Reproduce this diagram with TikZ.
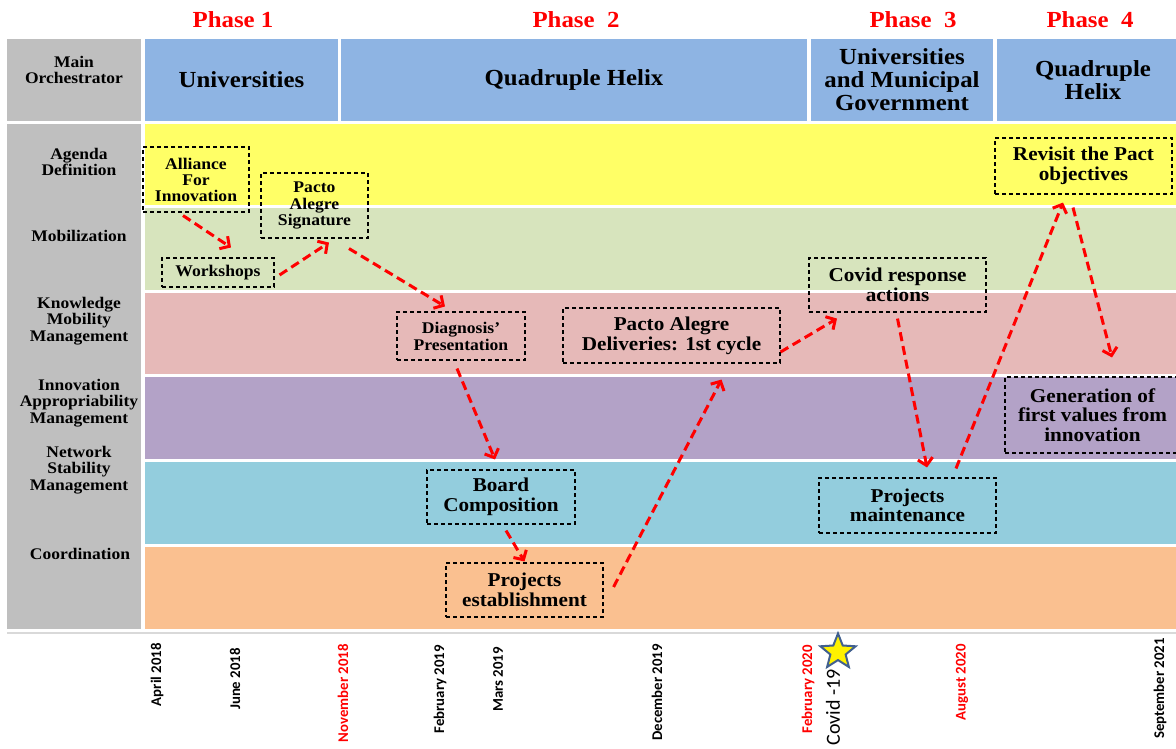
\documentclass[tikz,border=0pt]{standalone}
\usepackage{fontspec}
\setmainfont{Liberation Serif}[FakeStretch=1.08]
\newfontfamily\datefont{Carlito}
\usetikzlibrary{arrows.meta,shapes.geometric}

\definecolor{headblue}{HTML}{8EB4E3}
\definecolor{sidegray}{HTML}{BFBFBF}
\definecolor{agendayellow}{HTML}{FFFF66}
\definecolor{mobgreen}{HTML}{D7E4BD}
\definecolor{kmpink}{HTML}{E6B9B8}
\definecolor{iapurple}{HTML}{B3A2C7}
\definecolor{nsblue}{HTML}{93CDDD}
\definecolor{coordorange}{HTML}{FAC090}
\definecolor{starblue}{HTML}{41608F}

\tikzset{
  phase/.style={text=red,font=\bfseries\fontsize{23}{23}\selectfont},
  headcell/.style={fill=headblue,minimum height=82pt,inner sep=0pt,align=center,font=\bfseries\fontsize{23}{23}\selectfont},
  rowlabel/.style={align=center,font=\bfseries\fontsize{16.2}{16.5}\selectfont},
  stepbox/.style={draw=black,line width=1.1pt,dash pattern=on 4pt off 3pt,inner sep=0pt,align=center,font=\bfseries\fontsize{19.6}{19.5}\selectfont},
  smallbox/.style={stepbox,font=\bfseries\fontsize{16.3}{16.5}\selectfont},
  flow/.style={red,line width=3pt,dash pattern=on 9pt off 5pt,-{Straight Barb[length=7pt,width=15pt]}},
  datelabel/.style={rotate=90,anchor=east,inner sep=0pt,font=\datefont\bfseries\fontsize{14.8}{15}\selectfont},
}

\begin{document}
\begin{tikzpicture}[x=1pt,y=-1pt]
  \useasboundingbox (0,0) rectangle (1176,748);
  \node[phase] (ph1) at (233,20) {Phase 1};
  \node[phase] (ph2) at (576,20) {Phase~~2};
  \node[phase] (ph3) at (913,20) {Phase~~3};
  \node[phase] (ph4) at (1090,20) {Phase~~4};

  \fill[sidegray] (7,39) rectangle (141,121);
  \node[rowlabel] (orch) at (74,70) {Main\\Orchestrator};
  \node[headcell,minimum width=193pt] (hd1) at (241.5,80) {Universities};
  \node[headcell,minimum width=466pt] (hd2) at (574,80) {Quadruple Helix};
  \node[headcell,minimum width=182pt] (hd3) at (902,80) {Universities\\and Municipal\\Government};
  \node[headcell,minimum width=192pt] (hd4) at (1093,80) {Quadruple\\Helix};

  \fill[sidegray] (7,124) rectangle (141,629);
  \foreach \c/\t/\b in {agendayellow/124/205,mobgreen/208/290,kmpink/293/374,iapurple/377/459,nsblue/462/544,coordorange/547/629}
    \fill[\c] (145,\t) rectangle (1176,\b);
  \draw[gray!30,line width=2pt] (7,632.5) -- (1176,632.5);

  \node[rowlabel] (agenda) at (79,162) {Agenda\\Definition};
  \node[rowlabel] (mobil) at (79,236) {Mobilization};
  \node[rowlabel] (knowl) at (79,321) {Knowledge\\Mobility\\Management};
  \node[rowlabel] (innov) at (79,403) {Innovation\\Appropriability\\Management};
  \node[rowlabel] (netw) at (79,470) {Network\\Stability\\Management};
  \node[rowlabel] (coord) at (80,554) {Coordination};

  \node[smallbox,minimum width=106pt,minimum height=65pt,font=\bfseries\fontsize{16.3}{16}\selectfont] (alliance) at (196,179.5) {Alliance\\For\\Innovation};
  \node[smallbox,minimum width=107pt,minimum height=65pt] (signature) at (314.5,205.5) {Pacto\\Alegre\\Signature};
  \node[smallbox,minimum width=112pt,minimum height=29pt] (workshops) at (218,272.5) {Workshops};
  \node[smallbox,minimum width=128pt,minimum height=48pt,font=\bfseries\fontsize{16.3}{17}\selectfont] (diagnosis) at (461,336) {Diagnosis’\\Presentation};
  \node[stepbox,minimum width=217pt,minimum height=55pt,font=\bfseries\fontsize{19.6}{20}\selectfont] (deliveries) at (671.5,335.5) {Pacto Alegre\\Deliveries: 1st cycle};
  \node[stepbox,minimum width=148pt,minimum height=54pt,font=\bfseries\fontsize{19.6}{20}\selectfont] (board) at (501,497) {Board\\Composition};
  \node[stepbox,minimum width=157pt,minimum height=54pt,font=\bfseries\fontsize{19.6}{20}\selectfont] (establish) at (524.5,590) {Projects\\establishment};
  \node[stepbox,minimum width=177pt,minimum height=54pt] (covid) at (897.5,285) {Covid response\\actions};
  \node[stepbox,minimum width=177pt,minimum height=56pt] (revisit) at (1083.5,166) {Revisit the Pact\\objectives};
  \node[stepbox,minimum width=175pt,minimum height=76pt] (generation) at (1092.5,415) {Generation of\\first values from\\innovation};
  \node[stepbox,minimum width=177pt,minimum height=55pt] (maintain) at (907.5,505.5) {Projects\\maintenance};

  \draw[flow] ([xshift=-13pt,yshift=-3pt]alliance.south) -- ([xshift=13pt,yshift=10pt]workshops.north);
  \draw[flow] ([xshift=5pt,yshift=-2.5pt]workshops.east) -- ([xshift=14.5pt,yshift=-4pt]signature.south);
  \draw[flow] ([xshift=34.5pt,yshift=-10pt]signature.south) -- ([xshift=-16pt,yshift=5pt]diagnosis.north);
  \draw[flow] ([xshift=-4pt,yshift=-8pt]diagnosis.south) -- ([xshift=-6pt,yshift=10pt]board.north);
  \draw[flow] ([xshift=5pt,yshift=-6pt]board.south) -- ([yshift=1pt]establish.north);
  \draw[flow] ([xshift=10pt,yshift=3pt]establish.east) -- ([xshift=50pt,yshift=-16pt]deliveries.south);
  \draw[flow] ([yshift=-16.5pt]deliveries.east) -- ([xshift=-60.5pt,yshift=-6pt]covid.south);
  \draw[flow] ([yshift=-6pt]covid.south) -- ([xshift=19.5pt,yshift=10pt]maintain.north);
  \draw[flow] ([xshift=48.5pt,yshift=9pt]maintain.north) -- ([xshift=-20.5pt,yshift=-8pt]revisit.south);
  \draw[flow] ([xshift=-10.5pt,yshift=-13pt]revisit.south) -- ([xshift=19.5pt,yshift=19pt]generation.north);

  \foreach \x/\y/\d in {157/643/April 2018,235/648/June 2018,440/645/February 2019,498/647/Mars 2019,657/644/December 2019,1160/638/September 2021}
    \node[datelabel] (d\x) at (\x,\y) {\d};
  \foreach \x/\y/\d in {343/644/November 2018,808/645/February 2020,962/644/August 2020}
    \node[datelabel,text=red] (d\x) at (\x,\y) {\d};
  \node[datelabel,font=\datefont\fontsize{20}{20}\selectfont] (covidlbl) at (833,669) {Covid -19};
  \node[star,star points=5,star point ratio=2.3,minimum size=37pt,inner sep=0pt,fill=yellow,draw=starblue,line width=2pt] (covidstar) at (838,652) {};
\end{tikzpicture}
\end{document}
